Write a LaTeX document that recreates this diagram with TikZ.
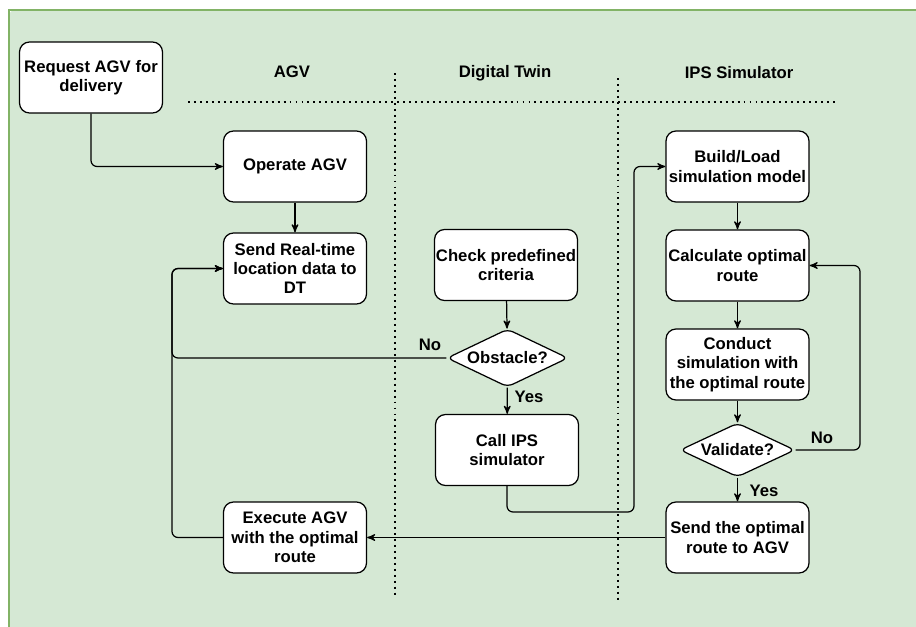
\documentclass[tikz,border=0pt]{standalone}
\usepackage{fontspec}
\setmainfont{Liberation Sans}
\usetikzlibrary{arrows,shapes.geometric}

\definecolor{panelfill}{HTML}{D5E8D4}
\definecolor{paneledge}{HTML}{82B366}

\begin{document}
\begin{tikzpicture}[>=stealth', x=0.02cm, y=-0.02cm,
  font=\fontsize{9.5}{11}\selectfont\bfseries,
  box/.style={draw, fill=white, rounded corners=0.2cm, line width=0.7pt,
    minimum width=2.86cm, minimum height=1.42cm, inner sep=0pt, align=center},
  decision/.style={draw, fill=white, diamond, aspect=2.1, line width=0.7pt, inner sep=0pt},
  lane/.style={line width=1.1pt, dash pattern=on 1.1pt off 2.3pt},
  every path/.append style={line width=0.7pt, rounded corners=0.12cm}]
\useasboundingbox (0,0) rectangle (916,626);
\fill[panelfill] (9,10) rectangle (930,640);
\draw[paneledge, line width=0.8pt, rounded corners=0pt] (9,640) -- (9,10) -- (930,10);

% lanes
\node (agvlane) at (292,72) {AGV};
\node (dtlane) at (505,73) {Digital Twin};
\node (ipslane) at (739,73) {IPS Simulator};
\draw[lane] (188,102) -- (838,102);
\draw[lane] (395,73) -- (395,598);
\draw[lane] (618,78) -- (618,603);

\node[box] (request) at (91,77.5) {Request AGV for\\delivery};
\node[box] (operate) at (295,166.5) {Operate AGV};
\node[box] (sendrt) at (295,268.5) {Send Real-time\\location data to\\DT};
\node[box] (execute) at (295,537.5) {Execute AGV\\with the optimal\\route};
\node[box] (check) at (506,265) {Check predefined\\criteria};
\node[decision, minimum width=2.42cm, minimum height=1.16cm] (obstacle) at (507.5,358) {Obstacle?};
\node[box] (callips) at (507,450) {Call IPS\\simulator};
\node[box] (build) at (737.5,166.5) {Build/Load\\simulation model};
\node[box] (calc) at (737.5,265.5) {Calculate optimal\\route};
\node[box] (conduct) at (737.5,364.5) {Conduct\\simulation with\\the optimal route};
\node[decision, minimum width=2.3cm, minimum height=1.08cm] (validate) at (737.5,450) {Validate?};
\node[box] (sendopt) at (737.5,537.5) {Send the optimal\\route to AGV};

\coordinate (backleft) at (172,268.5);
\coordinate (ipsdown) at (634,512);
\coordinate (loopright) at (860,450);

\node (obsno) at (430,345) {No};
\node (obsyes) at (529,397) {Yes};
\node (valno) at (822,438) {No};
\node (valyes) at (764,491) {Yes};

\draw[->] (request.south) |- (operate.west);
\draw[->] (operate) edge (sendrt);
\draw[->] (obstacle.west) -| (backleft) -- (sendrt.west);
\draw[->] (execute.west) -| (backleft) -- (sendrt.west);
\draw[->] (check) edge (obstacle);
\draw[->] (obstacle) edge (callips);
\draw[->] (callips.south) |- (ipsdown) |- (build.west);
\draw[->] (build) edge (calc);
\draw[->] (calc) edge (conduct);
\draw[->] (conduct) edge (validate);
\draw[->] (validate.east) -- (loopright) |- (calc.east);
\draw[->] (validate) edge (sendopt);
\draw[->] (sendopt) edge (execute);
\end{tikzpicture}
\end{document}
